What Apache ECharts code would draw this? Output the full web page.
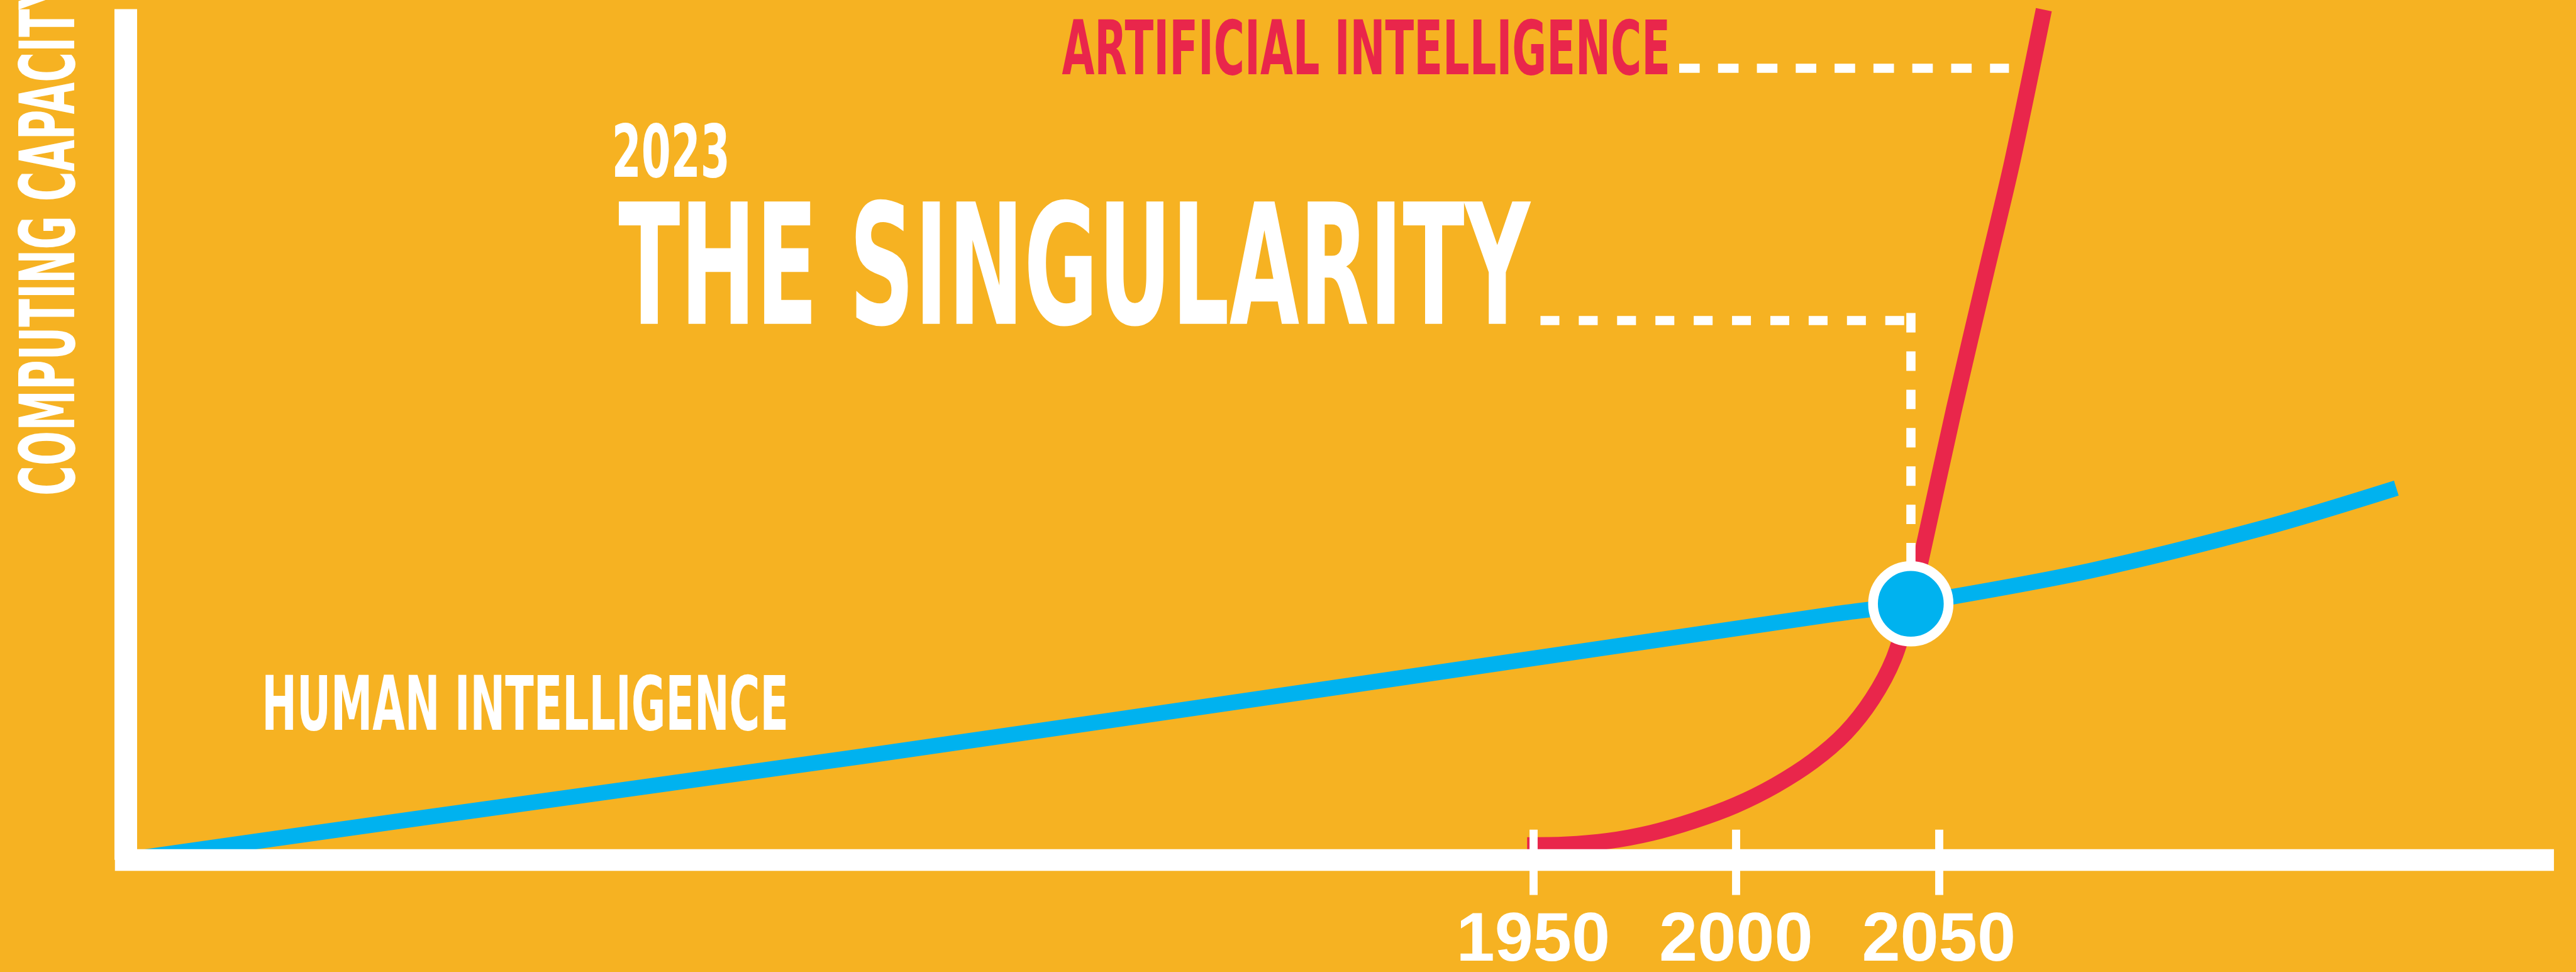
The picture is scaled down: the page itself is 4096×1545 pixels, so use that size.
<!DOCTYPE html>
<html>
<head>
<meta charset="utf-8">
<script src="https://cdn.jsdelivr.net/npm/echarts@6/dist/echarts.min.js"></script>
<style>
html,body{margin:0;padding:0;background:#F6B222;overflow:hidden;}
#chart{width:4096px;height:1545px;}
</style>
</head>
<body>
<div id="chart"></div>
<script>
// ---------------- data ----------------
const humanYears  = [1603, 1678.4, 1784.9, 1904.6, 2024.3, 2043.1, 2087.4, 2130.7, 2162.8];
const humanValues = [0, 5.1, 12.2, 20.5, 28.9, 30.1, 34.0, 39.1, 43.7];

const aiYears  = [1948.5, 1957.8, 1968.4, 1979.1, 1989.7, 1999.8, 2009.7, 2019.0, 2027.0, 2033.6, 2038.9, 2043.1, 2045.6, 2053.7, 2061.8, 2068.1, 2075.9];
const aiValues = [1.71, 1.78, 2.22, 3.17, 4.63, 6.41, 8.76, 11.61, 14.91, 18.91, 23.67, 30.14, 35.34, 52.86, 69.35, 82.04, 99.94];

const tickYears = [1950, 2000, 2050];

const singularityPoint = [2043.1, 30.1];

const aiLeaderYears = [1986.0, 2067.3];
const aiLeaderValue = 93.1;
const singLeaderYears = [1951.8, 2044.5];
const singLeaderValue = 63.45;
const singDropYear = 2043.1;
const singDropValues = [64.28, 34.9];

const yAxisName = 'COMPUTING CAPACITY';
const aiLabel = 'ARTIFICIAL INTELLIGENCE';
const humanLabel = 'HUMAN INTELLIGENCE';
const singYearLabel = '2023';
const singLabel = 'THE SINGULARITY';

// ---------------- style ----------------
const BG = '#F6B222', BLUE = '#00B2EF', RED = '#E9264B', WHITE = '#FFFFFF';
const S = 0.858;

const TEXT_FAMILY = '"DejaVu Sans Condensed", "DejaVu Sans"';
const LABEL_FAMILY = '"Liberation Sans"';
const WEIGHT = 'bold';

const mctx = document.createElement('canvas').getContext('2d');
function fontStr(size, fam) { return WEIGHT + ' ' + size + 'px ' + fam; }

function metrics(font, text) {
  mctx.font = font;
  mctx.textBaseline = 'middle';
  const m = mctx.measureText(text);
  const h = mctx.measureText('H');
  mctx.textBaseline = 'alphabetic';
  return { left: m.actualBoundingBoxLeft, right: m.actualBoundingBoxRight,
           capTop: h.actualBoundingBoxAscent, base: h.actualBoundingBoxDescent };
}

// place a text so that its cap height and ink width match the reference box
function fitText(o) {
  const m = metrics(fontStr(100, TEXT_FAMILY), o.measure || o.text);
  const ch100 = m.capTop + m.base;
  const fs = o.capH / ch100 * 100;
  const k = fs / 100;
  const ink = (m.left + m.right) * k;
  const sx = o.width / ink;
  const style = { text: o.text, font: fontStr(fs, TEXT_FAMILY), fill: o.color, align: 'left', verticalAlign: 'middle' };
  if (o.rotate) {
    return { type: 'text', z: 50, silent: true, rotation: Math.PI / 2, scaleX: sx,
             x: o.left + m.capTop * k, y: o.bottom - m.left * k * sx, style };
  }
  return { type: 'text', z: 50, silent: true, scaleX: sx,
           x: o.left + m.left * k * sx, y: o.top + m.capTop * k, style };
}

const graphics = [
  fitText({ text: aiLabel, color: RED, left: 1968 * S, top: 35 * S, capH: 102 * S, width: 1122 * S }),
  fitText({ text: singYearLabel, color: WHITE, left: 1140 * S, top: 230 * S, capH: 98 * S, width: 207 * S }),
  fitText({ text: singLabel, color: WHITE, left: 1146 * S, top: 373 * S, capH: 227 * S, width: 1693 * S }),
  fitText({ text: humanLabel, color: WHITE, left: 492 * S, top: 1250 * S, capH: 102 * S, width: 964 * S }),
  fitText({ text: yAxisName, measure: 'COMPUTING CAPACIT', color: WHITE, rotate: true,
            left: 35 * S, bottom: 915 * S, capH: 103 * S, width: 898 * S })
];

// axis label sizing (tall condensed digits in the reference)
const labCap = 103 * S, labW = 199 * S;
const lm = metrics(fontStr(100, LABEL_FAMILY), '1950');
const lch = lm.capTop + lm.base;
const fsH = labCap / lch * 100, fsW = labW / (lm.left + lm.right) * 100;
const labelFs = Math.round(Math.pow(fsH, 0.7) * Math.pow(fsW, 0.3));
const gridBottomY = 1593 * S;
const labelMargin = 1690 * S - gridBottomY - labelFs / 2 + lm.capTop * labelFs / 100;

const XMIN = 1603, XMAX = 2199;

const option = {
  backgroundColor: BG,
  animation: false,
  grid: { left: 233 * S, right: 4096 - 4713 * S, top: 17 * S, bottom: 1545 - 1593 * S,
          containLabel: false, outerBoundsMode: 'none' },
  xAxis: [
    {
      type: 'value', min: XMIN, max: XMAX, position: 'bottom', z: 10,
      axisLine: { show: true, onZero: false, lineStyle: { color: WHITE, width: 40 * S, cap: 'square' } },
      axisTick: { show: true, inside: false, length: 65 * S, customValues: tickYears,
                  lineStyle: { color: WHITE, width: 15 * S } },
      axisLabel: { show: true, customValues: tickYears, color: WHITE, fontFamily: LABEL_FAMILY,
                   fontWeight: WEIGHT, fontSize: labelFs, lineHeight: labelFs, margin: labelMargin,
                   formatter: (v) => String(v) },
      splitLine: { show: false }
    },
    {
      type: 'value', min: XMIN, max: XMAX, position: 'bottom', z: 10,
      axisLine: { show: false, onZero: false },
      axisTick: { show: true, inside: true, length: 56 * S, customValues: tickYears,
                  lineStyle: { color: WHITE, width: 15 * S } },
      axisLabel: { show: false },
      splitLine: { show: false }
    }
  ],
  yAxis: {
    type: 'value', min: 0, max: 100, z: 9,
    axisLine: { show: true, onZero: false, lineStyle: { color: WHITE, width: 42 * S, cap: 'butt' } },
    axisTick: { show: false }, axisLabel: { show: false }, splitLine: { show: false }
  },
  series: [
    {
      name: humanLabel, type: 'line', z: 3, showSymbol: false, symbol: 'none', smooth: 0.3,
      data: humanYears.map((y, i) => [y, humanValues[i]]),
      lineStyle: { color: BLUE, width: 29 * S }
    },
    {
      name: aiLabel, type: 'line', z: 4, showSymbol: false, symbol: 'none', smooth: 0.3,
      data: aiYears.map((y, i) => [y, aiValues[i]]),
      lineStyle: { color: RED, width: 30 * S }
    },
    {
      name: 'singularity', type: 'scatter', z: 6,
      data: [singularityPoint],
      symbol: 'circle', symbolSize: 140 * S,
      itemStyle: { color: BLUE, borderColor: WHITE, borderWidth: 18 * S, opacity: 1 },
      emphasis: { disabled: true },
      markLine: {
        silent: true, symbol: ['none', 'none'], label: { show: false }, emphasis: { disabled: true },
        lineStyle: { color: WHITE, width: 17 * S, type: [38 * S, 34 * S], cap: 'butt', opacity: 1 },
        data: [
          [{ coord: [aiLeaderYears[0], aiLeaderValue] }, { coord: [aiLeaderYears[1], aiLeaderValue] }],
          [{ coord: [singLeaderYears[0], singLeaderValue], lineStyle: { type: [35 * S, 36 * S] } },
           { coord: [singLeaderYears[1], singLeaderValue] }],
          [{ coord: [singDropYear, singDropValues[0]], lineStyle: { type: [36 * S, 35 * S] } },
           { coord: [singDropYear, singDropValues[1]] }]
        ]
      }
    }
  ],
  graphic: graphics
};

const chart = echarts.init(document.getElementById('chart'), null, { renderer: 'canvas' });
chart.setOption(option);
</script>
</body>
</html>
